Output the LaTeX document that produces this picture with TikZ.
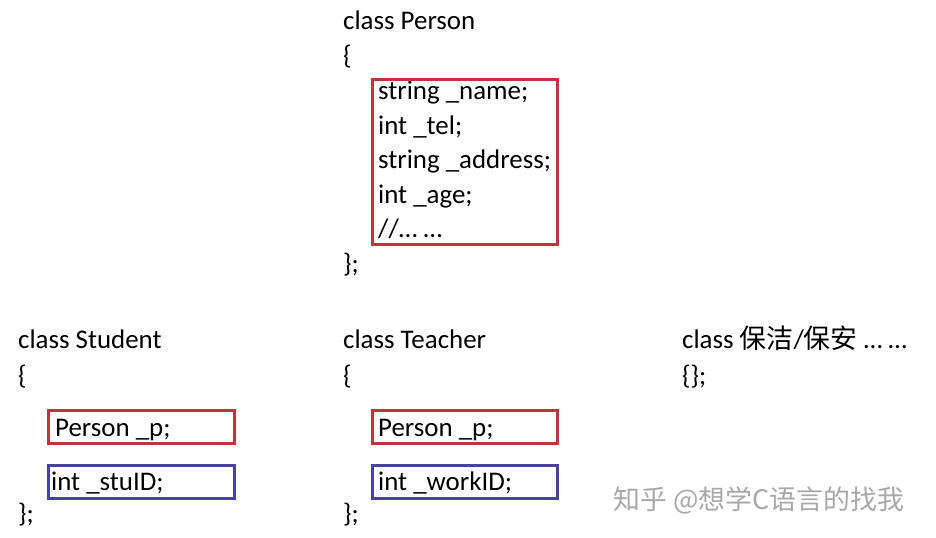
\documentclass[tikz,border=0pt]{standalone}
\usepackage{fontspec}
\setmainfont{Carlito}
\newfontfamily\cjk{Noto Sans CJK SC}
\definecolor{boxred}{HTML}{C8323C}
\definecolor{boxblue}{HTML}{4444A0}
\definecolor{wmgray}{HTML}{A8A8A8}
\tikzset{
  code/.style={anchor=base west, inner sep=0pt, font=\fontsize{27}{30}\selectfont},
  redbox/.style={draw=boxred, line width=3bp},
  bluebox/.style={draw=boxblue, line width=3bp},
  wm/.style={anchor=west, inner sep=0pt, text=wmgray, font=\fontsize{27}{30}\cjk}
}
\begin{document}
\begin{tikzpicture}[x=1bp,y=-1bp]
\useasboundingbox (0,0) rectangle (936,538);
\fill[white] (0,0) rectangle (936,538);
% Person
\node[code] (p0) at (343,30) {class Person};
\node[code] (p1) at (343,65) {\{};
\node[code] (p2) at (378,100) {string \_name;};
\node[code] (p3) at (378,134.5) {int \_tel;};
\node[code] (p4) at (378,169) {string \_address;};
\node[code] (p5) at (378,203.5) {int \_age;};
\node[code] (p6) at (378,238) {//… …};
\node[code] (p7) at (343,273) {\};};
\draw[redbox] (372.5,80) rectangle (557,245);
% Student
\node[code] (s0) at (18,349) {class Student};
\node[code] (s1) at (18,384) {\{};
\draw[redbox] (48.5,410) rectangle (234,443.5);
\node[code] (s2) at (55,436) {Person \_p;};
\draw[bluebox] (48.5,465) rectangle (234,498.5);
\node[code] (s3) at (51,490) {int \_stuID;};
\node[code] (s4) at (18,522) {\};};
% Teacher
\node[code] (t0) at (343,349) {class Teacher};
\node[code] (t1) at (343,384) {\{};
\draw[redbox] (372.5,410) rectangle (557,443.5);
\node[code] (t2) at (378,436) {Person \_p;};
\draw[bluebox] (372.5,465) rectangle (557,498.5);
\node[code] (t3) at (378,490) {int \_workID;};
\node[code] (t4) at (343,522) {\};};
% Other
\node[code] (o0) at (682,349) {class {\cjk 保洁}/{\cjk 保安} … …};
\node[code] (o1) at (682,384) {\{\};};
% watermark
\node[wm] (w) at (613,500) {知乎 @想学C语言的找我};
\end{tikzpicture}
\end{document}
